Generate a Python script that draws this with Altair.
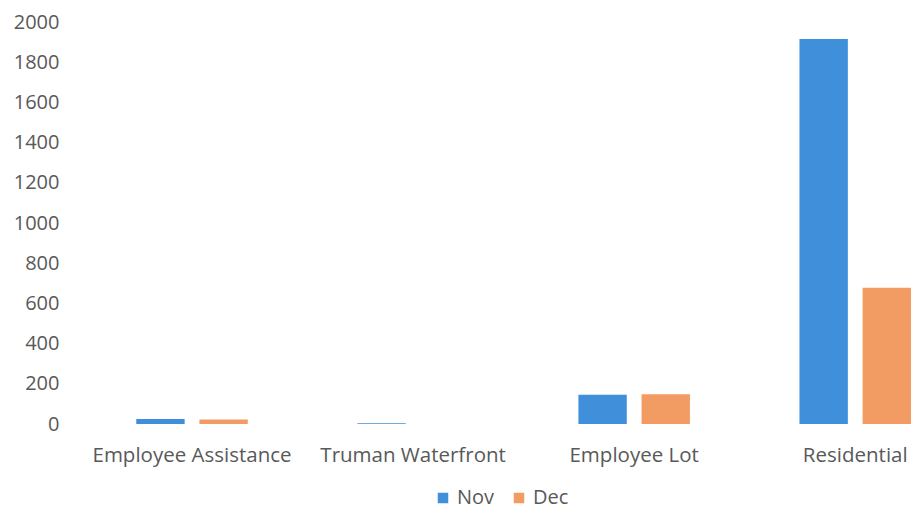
import altair as alt
import pandas as pd

categories = ["Employee Assistance", "Truman Waterfront", "Employee Lot", "Residential"]
months = ["Nov", "Dec"]
nov_values = [25, 4, 145, 1915]
dec_values = [22, 0, 148, 678]

rows = []
for c, n, d in zip(categories, nov_values, dec_values):
    rows.append({"category": c, "month": "Nov", "value": n})
    rows.append({"category": c, "month": "Dec", "value": d})
df = pd.DataFrame(rows)

FONT = "Open Sans"
GRAY = "#595959"

chart = alt.Chart(df).mark_bar().encode(
    x=alt.X("category:N", sort=categories, title=None,
            scale=alt.Scale(paddingInner=0.4955, paddingOuter=0.125, align=1),
            axis=alt.Axis(labelAngle=0, labelFont=FONT, labelFontSize=20.5, labelColor=GRAY,
                          domain=False, ticks=False, labelPadding=21, labelLimit=0)),
    xOffset=alt.XOffset("month:N", sort=months,
                        scale=alt.Scale(paddingInner=0.234, paddingOuter=0)),
    y=alt.Y("value:Q", title=None,
            scale=alt.Scale(domain=[0, 2000], nice=False),
            axis=alt.Axis(values=list(range(0, 2001, 200)), format="d", grid=False, domain=False,
                          ticks=False, labelFont=FONT, labelFontSize=20, labelColor=GRAY,
                          labelPadding=22)),
    color=alt.Color("month:N", sort=months,
                    scale=alt.Scale(domain=months, range=["#3F8FDB", "#F29B62"]),
                    legend=alt.Legend(title=None, orient="none", legendX=352, legendY=466,
                                      direction="horizontal",
                                      symbolType="square", symbolSize=110, symbolStrokeWidth=0,
                                      labelFont=FONT, labelFontSize=20, labelColor=GRAY,
                                      columnPadding=14, symbolOffset=0)),
).properties(
    width=830, height=402,
    padding={"top": 4, "left": 5, "right": 0, "bottom": 2},
).configure_view(stroke=None)

chart.save("out.html", embed_options={"renderer": "svg", "actions": False})
